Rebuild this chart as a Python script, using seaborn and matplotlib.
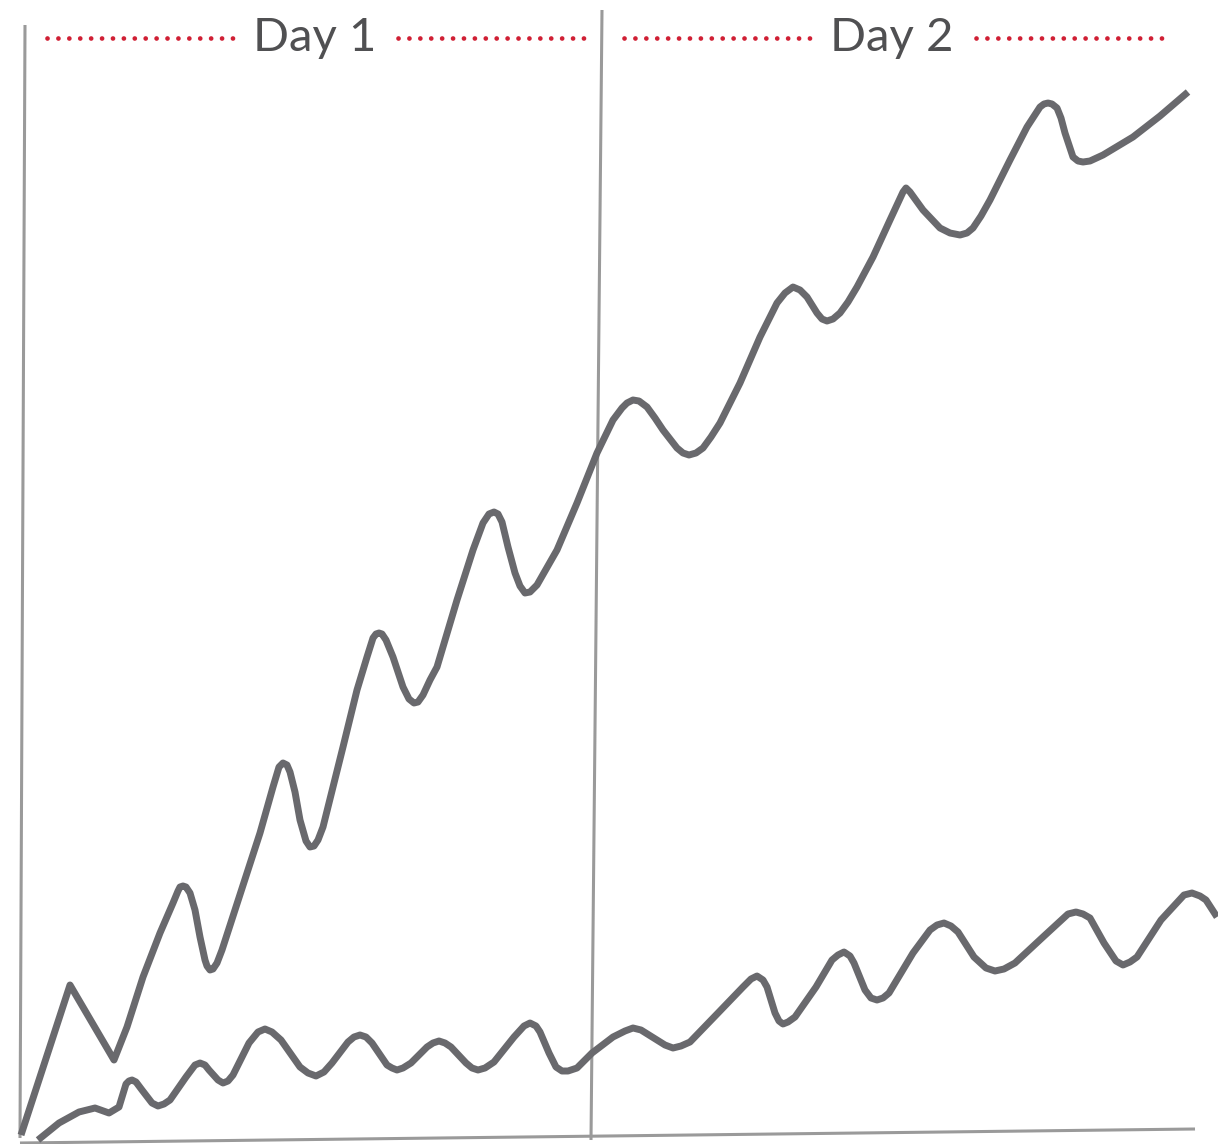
import matplotlib
matplotlib.use("Agg")
import matplotlib.pyplot as plt
import seaborn as sns
import pandas as pd

sns.set_theme(style="white")
plt.rcParams['font.family'] = ['Lato', 'DejaVu Sans']

# ---- data (picture coordinates) ----
upper_x = [21, 70, 114, 127, 143, 160, 173, 178, 180, 183, 186, 190, 195, 200,
           205, 207, 210, 213, 217, 222, 260, 273, 279, 283, 287, 290, 295, 300,
           306, 310, 314, 318, 323, 343, 357, 367, 373, 376, 379, 382, 386, 393,
           403, 409, 414, 418, 423, 430, 437, 457, 473, 483, 489, 494, 498, 502,
           508, 515, 520, 525, 530, 537, 557, 577, 597, 613, 622, 627, 633, 639,
           647, 655, 663, 677, 683, 689, 696, 703, 711, 720, 740, 760, 777, 785,
           793, 800, 807, 812, 817, 822, 827, 833, 840, 848, 857, 873, 890, 903,
           906, 910, 923, 940, 950, 960, 967, 973, 981, 990, 1010, 1027, 1040,
           1044, 1048, 1052, 1057, 1061, 1065, 1073, 1078, 1083, 1090, 1103,
           1118, 1133, 1160, 1188]
upper_y = [1135, 985, 1060, 1027, 977, 933, 903, 891, 887, 886, 887, 893, 910, 937,
           960, 966, 970, 969, 963, 950, 833, 787, 767, 763, 765, 772, 792, 820,
           841, 847, 846, 840, 827, 747, 690, 657, 638, 634, 633, 634, 640, 657,
           687, 699, 703, 702, 695, 680, 667, 600, 550, 523, 514, 512, 514, 522,
           547, 573, 586, 593, 592, 585, 550, 503, 453, 420, 408, 403, 400, 401,
           407, 418, 430, 448, 453, 455, 453, 448, 437, 423, 383, 337, 303, 293,
           287, 290, 297, 305, 313, 319, 321, 319, 313, 302, 287, 257, 220, 192,
           188, 192, 210, 228, 233, 235, 233, 228, 216, 200, 160, 127, 107,
           104, 103, 104, 108, 118, 133, 157, 161, 162, 161, 155,
           146, 137, 116, 92]

lower_x = [38, 59, 79, 95, 109, 119, 126, 129, 132, 136, 142, 152, 158, 164, 170,
           186, 195, 200, 205, 209, 218, 223, 228, 233, 249, 258, 265, 272, 281,
           300, 308, 316, 324, 332, 348, 354, 360, 366, 372, 387, 392, 397, 403,
           411, 427, 433, 439, 445, 451, 466, 472, 478, 485, 494, 514, 524, 530,
           536, 540, 549, 556, 562, 568, 577, 592, 613, 625, 633, 641, 649, 665,
           673, 681, 690, 718, 743, 751, 757, 763, 767, 775, 779, 783, 788, 795,
           816, 832, 838, 844, 850, 854, 865, 871, 877, 883, 889, 913, 930, 937,
           944, 951, 958, 974, 986, 995, 1004, 1015, 1043, 1068, 1076, 1083,
           1090, 1104, 1116, 1123, 1130, 1137, 1161, 1184, 1192, 1200, 1206, 1217]
lower_y = [1140, 1123, 1112, 1108, 1113, 1107, 1084, 1081, 1080, 1082, 1090, 1103,
           1106, 1104, 1100, 1077, 1065, 1063, 1065, 1070, 1080, 1083, 1081, 1075,
           1043, 1032, 1029, 1032, 1040, 1067, 1073, 1076, 1072, 1063, 1042, 1037,
           1035, 1037, 1043, 1065, 1068, 1070, 1068, 1063, 1047, 1043, 1041, 1043,
           1047, 1063, 1068, 1070, 1068, 1062, 1037, 1026, 1023, 1026, 1032, 1053,
           1067, 1071, 1071, 1068, 1053, 1037, 1031, 1028, 1030, 1035, 1045, 1048,
           1046, 1042, 1013, 987, 979, 976, 980, 987, 1013, 1021, 1024, 1022,
           1017, 987, 960, 955, 952, 956, 963, 990, 998, 1000, 998, 993, 953, 930,
           925, 923, 926, 932, 957, 968, 971, 969, 963, 937, 914, 912, 914, 918,
           943, 961, 965, 962, 957, 920, 895, 893, 896, 900, 917]

# hand drawn frame: left edge, day divider, baseline
frame_x = [[25, 20], [602, 591], [20, 1195]]
frame_y = [[25, 1138], [10, 1140], [1143, 1129]]

day_labels = ["Day 1", "Day 2"]
label_x = [315, 892]
label_y = [38, 38]
dots_x = [[47, 235], [398, 585], [624, 812], [976, 1162]]

fig = plt.figure(figsize=(12.18, 11.44), dpi=100)
ax = fig.add_axes([0, 0, 1, 1])

for fx, fy in zip(frame_x, frame_y):
    ax.plot(fx, fy, color="#9a9a9a", lw=2.2, solid_capstyle="butt")

curves = pd.concat([
    pd.DataFrame({"x": upper_x, "y": upper_y, "series": "upper"}),
    pd.DataFrame({"x": lower_x, "y": lower_y, "series": "lower"}),
])
for name, grp in curves.groupby("series"):
    sns.lineplot(data=grp, x="x", y="y", ax=ax, sort=False, estimator=None,
                 color="#69696d", lw=5, legend=False)
for ln in ax.lines[3:]:
    ln.set_solid_joinstyle("round")
    ln.set_solid_capstyle("butt")

# red dotted leaders either side of the day labels
for dx in dots_x:
    ax.plot(dx, [38, 38], color="#d01f34", lw=3.4,
            linestyle=(0, (0.01, 2.3)), dash_capstyle="round")

for lab, lx, ly in zip(day_labels, label_x, label_y):
    ax.text(lx, ly, lab, ha="center", va="center", fontsize=34,
            fontweight="normal", color="#505052")

ax.set_xlim(0, 1218)
ax.set_ylim(1144, 0)
ax.axis("off")

fig.savefig("out.png", dpi=100)
